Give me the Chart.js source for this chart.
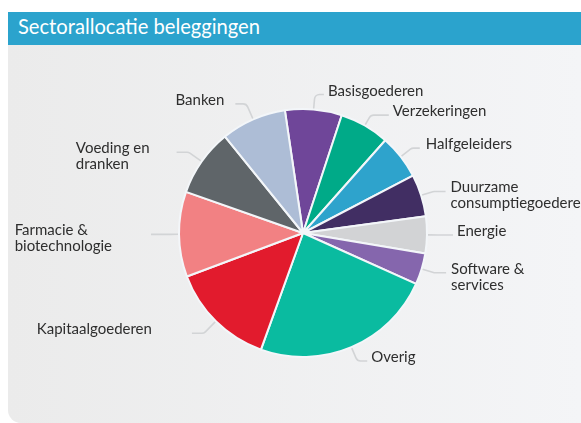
<!DOCTYPE html>
<html><head><meta charset="utf-8">
<script src="https://cdn.jsdelivr.net/npm/chart.js@4.4.1/dist/chart.umd.min.js"></script>
<style>
html,body{margin:0;padding:0;background:#fff;}
#wrap{position:relative;width:581px;height:423px;overflow:hidden;background:#fff;}
#band{position:absolute;left:8px;top:12px;width:573px;height:33px;background:#2ba3cd;}
#title{position:absolute;left:18px;top:9px;line-height:33px;color:#fff;font-family:Lato,"Open Sans",sans-serif;font-size:21px;white-space:nowrap;transform-origin:0 50%;}
#panel{position:absolute;left:8px;top:45px;width:573px;height:378px;background:linear-gradient(to right,#ebebeb,#f4f5f7);border-bottom-left-radius:13px;}
#c{position:absolute;left:0;top:0;}
</style>
</head><body>
<div id="wrap">
  <div id="band"></div>
  <div id="title">Sectorallocatie beleggingen</div>
  <div id="panel"></div>
  <canvas id="c" width="581" height="423"></canvas>
</div>
<script>
// ---- data ----
const categories = [
  "Basisgoederen", "Verzekeringen", "Halfgeleiders",
  ["Duurzame", "consumptiegoederen"], "Energie", ["Software &", "services"],
  "Overig", "Kapitaalgoederen", ["Farmacie &", "biotechnologie"],
  ["Voeding en", "dranken"], "Banken"
];
const shares = [7.4, 6.5, 5.8, 5.5, 4.8, 4.1, 23.8, 13.8, 11.1, 8.8, 8.5];
const sliceColors = [
  "#6f4699", "#00aa88", "#2ea3cc", "#412e63", "#d2d3d5", "#8566ad",
  "#0abba0", "#e21b2d", "#f28183", "#5f6569", "#adbdd6"
];
// leader layout per label: [radial out, horizontal run, text gap]
const leaderLayout = [
  [14, 9, 4], [11, 18, 4], [13, 8, 6], [12, 12, 5], [10, 15, 4], [12, 12, 5],
  [14, 10, 4], [16, 12, 40], [8, 19, 39], [15, 12, 27], [16, 11, 11]
];

// fit title width
const t = document.getElementById('title');
const tw = t.getBoundingClientRect().width;
t.style.transform = 'scaleX(' + (242 / tw) + ')';

const leaderPlugin = {
  id: 'leaders',
  afterDatasetsDraw(chart) {
    const ctx = chart.ctx;
    const meta = chart.getDatasetMeta(0);
    ctx.save();
    ctx.font = '15px Lato, "Open Sans", sans-serif';
    meta.data.forEach((arc, i) => {
      const mid = (arc.startAngle + arc.endAngle) / 2;
      const dx = Math.cos(mid), dy = Math.sin(mid);
      const r = arc.outerRadius + 1;
      const [out, run, gap] = leaderLayout[i];
      const sx = arc.x + dx * r, sy = arc.y + dy * r;
      const ex = arc.x + dx * (r + out), ey = arc.y + dy * (r + out);
      const side = dx >= 0 ? 1 : -1;
      const fx = ex + side * run, fy = ey;
      ctx.strokeStyle = '#d2d4d6';
      ctx.lineWidth = 1.6;
      ctx.beginPath();
      ctx.moveTo(sx, sy);
      ctx.arcTo(ex, ey, fx, fy, 5);
      ctx.lineTo(fx, fy);
      ctx.stroke();
      const lines = Array.isArray(categories[i]) ? categories[i] : [categories[i]];
      const w = Math.max(...lines.map(l => ctx.measureText(l).width));
      const tx = side > 0 ? fx + gap : fx - gap - w;
      ctx.fillStyle = '#2e2e2e';
      ctx.textAlign = 'left';
      ctx.textBaseline = 'alphabetic';
      lines.forEach((l, k) => ctx.fillText(l, tx, fy + 1 + k * 16));
    });
    ctx.restore();
  }
};

new Chart(document.getElementById('c'), {
  type: 'pie',
  data: {
    labels: categories,
    datasets: [{
      data: shares,
      backgroundColor: sliceColors,
      borderColor: '#f3f6f9',
      borderWidth: 2
    }]
  },
  options: {
    responsive: false,
    animation: false,
    devicePixelRatio: 1,
    rotation: -8.4,
    radius: 124,
    layout: { padding: { left: 25, right: 0, top: 43, bottom: 0 } },
    plugins: { legend: { display: false }, tooltip: { enabled: false } }
  },
  plugins: [leaderPlugin]
});
</script>
</body></html>
